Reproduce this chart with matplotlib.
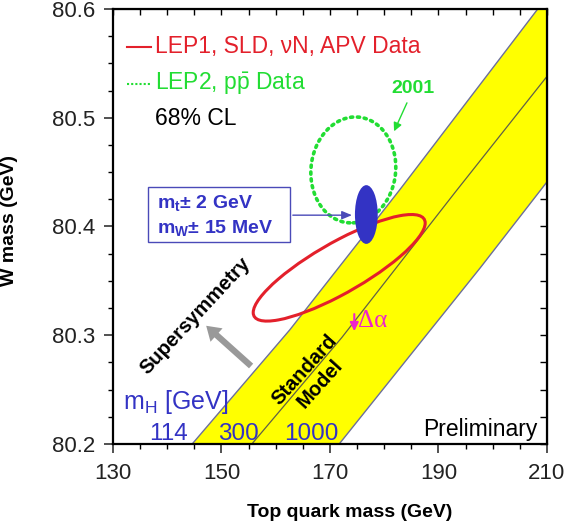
import numpy as np
import matplotlib
matplotlib.use("Agg")
import matplotlib.pyplot as plt
from matplotlib.patches import Circle, Rectangle
from matplotlib.transforms import Affine2D
from matplotlib.ticker import MultipleLocator, NullFormatter

plt.rcParams['font.family'] = ['Liberation Sans', 'DejaVu Sans']
plt.rcParams['mathtext.fontset'] = 'custom'
plt.rcParams['mathtext.rm'] = 'Liberation Sans'
plt.rcParams['mathtext.bf'] = 'Liberation Sans:bold'

# axis ranges (GeV)
mt_range = [130, 210]
mw_range = [80.2, 80.6]

# SM prediction lines: (mt, mW) for mH = 114, 300, 1000 GeV
mh114_mt = [144.6, 162.6, 182.9, 208.3]
mh114_mw = [80.200, 80.305, 80.434, 80.600]
mh300_mt = [155.6, 172.2, 193.0, 210.0]
mh300_mw = [80.200, 80.298, 80.431, 80.538]
mh1000_mt = [171.7, 187.1, 197.7, 210.0]
mh1000_mw = [80.200, 80.296, 80.362, 80.441]
mh_labels = ["114", "300", "1000"]

# 68% CL contours: centre (mt, mW), sigma (mt, mW), correlation
lep1_centre = (171.7, 80.362)
lep1_sigma = (15.85, 0.0490)
lep1_rho = 0.84
lep2_centre = (174.3, 80.452)
lep2_sigma = (7.83, 0.0487)
lep2_rho = 0.05
future_centre = (176.7, 80.411)
future_sigma = (2.1, 0.027)

RED = '#e3202b'
GREEN = '#22dd33'
BLUE = '#3333c4'


def add_contour(ax, centre, sigma, rho, **kw):
    """Draw a unit circle mapped through the covariance (Cholesky) of the contour."""
    sx, sy = sigma
    m = np.array([[sx, 0.0, centre[0]],
                  [rho * sy, sy * np.sqrt(1 - rho ** 2), centre[1]],
                  [0.0, 0.0, 1.0]])
    patch = Circle((0, 0), 1, transform=Affine2D(m) + ax.transData, **kw)
    ax.add_patch(patch)
    return patch


fig = plt.figure(figsize=(5.66, 5.21), dpi=100)
ax = fig.add_axes([0.1996, 0.1478, 0.7668, 0.835])
ax.set_xlim(mt_range)
ax.set_ylim(mw_range)

# yellow SM band
band_mt = mh114_mt + [mt_range[1]] + mh1000_mt[::-1]
band_mw = mh114_mw + [mw_range[1]] + mh1000_mw[::-1]
ax.fill(band_mt, band_mw, color='#ffff00', lw=0, zorder=1)
ax.plot(mh114_mt, mh114_mw, color='#6b6e9c', lw=1.0, zorder=2)
ax.plot(mh300_mt, mh300_mw, color='#606048', lw=0.9, zorder=2)
ax.plot(mh1000_mt, mh1000_mw, color='#6b6e9c', lw=1.0, zorder=2)

# contours
add_contour(ax, lep2_centre, lep2_sigma, lep2_rho, fill=False, ec=GREEN,
            lw=2.6, ls=(0, (0.6, 1.3)), capstyle='round', zorder=3)
add_contour(ax, lep1_centre, lep1_sigma, lep1_rho, fill=False, ec=RED,
            lw=2.2, zorder=4)
add_contour(ax, future_centre, future_sigma, 0.0, fc=BLUE, ec='none', zorder=5)

# legend
ax.plot([0.032, 0.088], [0.912, 0.912], color=RED, lw=1.5, transform=ax.transAxes)
ax.text(0.097, 0.899, "LEP1, SLD, \u03bdN, APV Data", color=RED, fontsize=16.5,
        transform=ax.transAxes, va='baseline')
ax.plot([0.032, 0.088], [0.828, 0.828], color=GREEN, lw=1.5, ls=(0, (1, 1)),
        transform=ax.transAxes)
ax.text(0.097, 0.814, "LEP2, p$\\bar{\\mathrm{p}}$ Data", color=GREEN, fontsize=16.5,
        transform=ax.transAxes, va='baseline')
ax.text(0.097, 0.733, "68% CL", color='black', fontsize=16.5,
        transform=ax.transAxes, va='baseline')

# 2001 label
ax.text(0.691, 0.807, "2001", color=GREEN, fontsize=14, fontweight='bold',
        transform=ax.transAxes, ha='center', va='baseline')
ax.annotate('', xy=(0.645, 0.713), xytext=(0.680, 0.790), xycoords='axes fraction',
            arrowprops=dict(arrowstyle='-|>,head_width=0.25,head_length=0.5',
                            color=GREEN, lw=1.0))

# precision box
ax.add_patch(Rectangle((0.081, 0.464), 0.327, 0.127, transform=ax.transAxes,
                       fill=False, ec='#4a4ab8', lw=1.0, zorder=6))
ax.text(0.101, 0.540, "m$_{\\mathbf{t}}$\u00b1 2 GeV", color=BLUE, fontsize=14,
        fontweight='bold', transform=ax.transAxes, va='baseline')
ax.text(0.101, 0.483, "m$_{\\mathbf{W}}$\u00b1 15 MeV", color=BLUE, fontsize=14,
        fontweight='bold', transform=ax.transAxes, va='baseline')
ax.annotate('', xy=(0.557, 0.526), xytext=(0.408, 0.526), xycoords='axes fraction',
            arrowprops=dict(arrowstyle='-|>,head_width=0.25,head_length=0.6',
                            color='#4a4ab8', lw=1.0), zorder=6)

# supersymmetry
ax.text(0.189, 0.294, "Supersymmetry", rotation=47, fontsize=14.5, fontweight='bold',
        transform=ax.transAxes, ha='center', va='center', rotation_mode='anchor')
ax.annotate('', xy=(0.210, 0.276), xytext=(0.323, 0.175), xycoords='axes fraction',
            arrowprops=dict(arrowstyle='simple,head_width=1.3,head_length=1.0,tail_width=0.45',
                            color='#999999', lw=0), zorder=6)

# standard model
ax.text(0.459, 0.154, "Standard\nModel", rotation=48, fontsize=14.5, fontweight='bold',
        transform=ax.transAxes, ha='center', va='center', multialignment='center',
        rotation_mode='anchor', linespacing=1.15, zorder=6)

# delta alpha
ax.annotate('', xy=(0.556, 0.253), xytext=(0.556, 0.305), xycoords='axes fraction',
            arrowprops=dict(arrowstyle='-|>,head_width=0.25,head_length=0.5',
                            color='#ee22cc', lw=1.5), zorder=6)
ax.text(0.565, 0.283, "\u0394\u03b1", color='#ee22cc', fontsize=18,
        family=['Liberation Serif', 'DejaVu Serif'], transform=ax.transAxes,
        va='center', zorder=6)

# Higgs mass labels
ax.text(0.023, 0.080, "m$_{\\mathrm{H}}$ [GeV]", color=BLUE, fontsize=18,
        transform=ax.transAxes, va='baseline')
for lab, xf in zip(mh_labels, [0.127, 0.288, 0.456]):
    ax.text(xf, 0.009, lab, color=BLUE, fontsize=17.5, transform=ax.transAxes,
            ha='center', va='baseline', zorder=6)

ax.text(0.979, 0.018, "Preliminary", color='black', fontsize=16.5,
        transform=ax.transAxes, ha='right', va='baseline', zorder=6)

# axes styling
for sp in ax.spines.values():
    sp.set_linewidth(1.6)
    sp.set_zorder(7)
ax.set_xticks([130, 150, 170, 190, 210])
ax.set_yticks([80.2, 80.3, 80.4, 80.5, 80.6])
ax.xaxis.set_minor_locator(MultipleLocator(5))
ax.yaxis.set_minor_locator(MultipleLocator(0.025))
ax.tick_params(which='major', direction='out', length=6.5, width=1.1,
               labelsize=16, colors='#222222')
ax.tick_params(which='minor', direction='out', length=3.5, width=1.0)
ax.tick_params(axis='x', which='major', pad=7)
ax.tick_params(axis='y', which='major', pad=6)

top = ax.secondary_xaxis('top')
top.set_xticks([130, 150, 170, 190, 210])
top.xaxis.set_minor_locator(MultipleLocator(5))
top.xaxis.set_major_formatter(NullFormatter())
top.tick_params(which='both', direction='in', length=4.5, width=1.0)
right = ax.secondary_yaxis('right')
right.set_yticks([80.2, 80.3, 80.4, 80.5, 80.6])
right.yaxis.set_minor_locator(MultipleLocator(0.025))
right.yaxis.set_major_formatter(NullFormatter())
right.tick_params(which='both', direction='in', length=5, width=1.0)

ax.set_xlabel("Top quark mass (GeV)", fontsize=14, fontweight='bold')
ax.set_ylabel("W mass (GeV)", fontsize=14, fontweight='bold')
ax.xaxis.set_label_coords(0.546, -0.138)
ax.yaxis.set_label_coords(-0.219, 0.513)

fig.savefig("out.png", dpi=100)
